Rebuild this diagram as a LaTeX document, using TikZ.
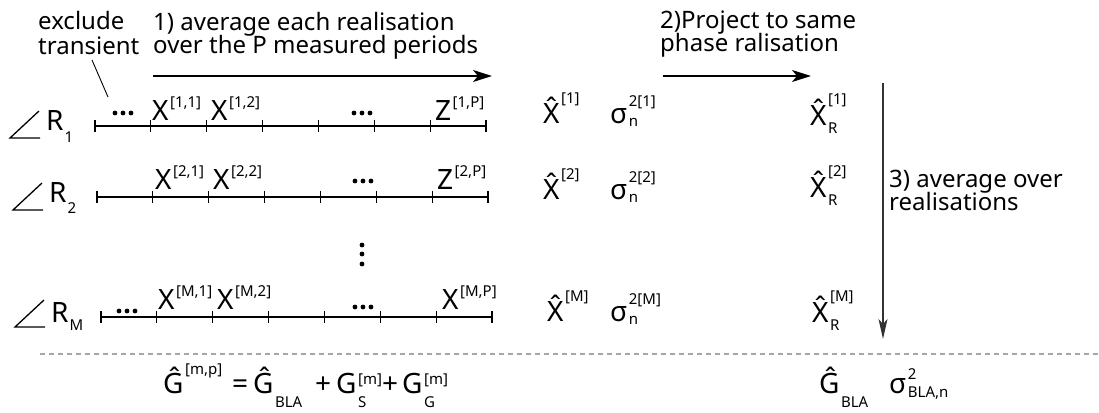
\documentclass[tikz,border=0pt]{standalone}
\usepackage{fontspec}
\setmainfont{Noto Sans}
\usetikzlibrary{arrows.meta,calc}

% font sizes
\newcommand\bigsz{\fontsize{28}{30}\selectfont}
\newcommand\smsz{\fontsize{15}{16}\selectfont}
\newcommand\txtsz{\fontsize{24}{24}\selectfont}

% symbol with superscript and subscript: base, sup, sub, raise, lower
\newcommand\sym[5]{{\bigsz #1}\hspace{1.5pt}\rlap{\raisebox{#4}{\smsz #2}}\raisebox{-#5}{\smsz #3}}
\newcommand\hatX{X^^^^0302}
% realisation label with index
\newcommand\phs[2]{{\bigsz R}\hspace{1pt}\raisebox{-#2}{\smsz #1}}

\begin{document}
\begin{tikzpicture}[x=1pt,y=-1pt,
  axis/.style={line width=1.4pt},
  tick/.style={line width=1.2pt},
  angl/.style={line width=1.3pt,line join=miter},
  flow/.style={line width=1.3pt,-{Stealth[length=19pt,width=12pt,inset=5pt]}},
  down/.style={line width=1.3pt,black!80,-{Stealth[length=20pt,width=9pt,inset=5pt]}},
  txt/.style={inner sep=0pt,anchor=base west,font=\txtsz},
  lbl/.style={inner sep=0pt,anchor=base west},
  dot/.style={circle,fill,inner sep=0pt,minimum size=4.8pt},
  sep/.style={line width=1.2pt,black!35,dash pattern=on 5pt off 4pt}]
\useasboundingbox (0,0) rectangle (1099,412);

% ---- captions
\node[txt] (ex1) at (38,30) {exclude};
\node[txt] (ex2) at (38,55) {transient};
\node[txt] (st1a) at (153,31) {1) average each realisation};
\node[txt] (st1b) at (153,53) {over the P measured periods};
\node[txt] (st2a) at (660,29) {2)Project to same};
\node[txt] (st2b) at (660,52) {phase ralisation};
\node[txt] (st3a) at (889,187) {3) average over};
\node[txt] (st3b) at (889,210) {realisations};

% ---- step arrows
\coordinate (a1s) at (153,76); \coordinate (a1e) at (492,76);
\coordinate (a2s) at (663,76); \coordinate (a2e) at (811,76);
\coordinate (a3s) at (883,83); \coordinate (a3e) at (883,339);
\draw[flow] (a1s) -- (a1e);
\draw[flow] (a2s) -- (a2e);
\draw[down] (a3s) -- (a3e);

% ---- transient pointer
\coordinate (trA) at (92,60); \coordinate (trB) at (108,97);
\draw[line width=0.9pt] (trA) -- (trB);

% ---- time axes of the realisations
\coordinate (r1s) at (95,126);  \coordinate (r1e) at (486,126);
\coordinate (r2s) at (97,197);  \coordinate (r2e) at (488,197);
\coordinate (rMs) at (101,317); \coordinate (rMe) at (492,317);
\foreach \r in {r1,r2,rM}{
  \draw[axis] (\r s) -- (\r e);
  \foreach \k in {0,...,7}
    \draw[tick] ($(\r s)!{\k/7}!(\r e)$) ++(0,-6) -- ++(0,12);
}

% ---- phase (angle) marks and realisation labels
\coordinate (an1) at (10,138);
\draw[angl] ($(an1)+(29,-27)$) -- (an1) -- ++(30,0);
\node[lbl] (R1) at (46,130) {\phs{1}{12pt}};
\coordinate (an2) at (13,210);
\draw[angl] ($(an2)+(29,-27)$) -- (an2) -- ++(30,0);
\node[lbl] (R2) at (49,202) {\phs{2}{11pt}};
\coordinate (anM) at (15,327);
\draw[angl] ($(anM)+(29,-27)$) -- (anM) -- ++(30,0);
\node[lbl] (RM) at (51,322) {\phs{M}{8pt}};

% ---- periods, row 1
\node[dot] (d1a) at (115,113) {}; \node[dot] (d1b) at (123,113) {}; \node[dot] (d1c) at (131,113) {};
\node[lbl] (x11) at (152,120) {\sym{X}{[1,1]}{}{13pt}{0pt}};
\node[lbl] (x12) at (211,120) {\sym{X}{[1,2]}{}{13pt}{0pt}};
\node[dot] (d1d) at (354,113) {}; \node[dot] (d1e) at (362,113) {}; \node[dot] (d1f) at (370,113) {};
\node[lbl] (z1P) at (435,120) {\sym{Z}{[1,P]}{}{13pt}{0pt}};

% ---- periods, row 2
\node[lbl] (x21) at (155,189) {\sym{X}{[2,1]}{}{13pt}{0pt}};
\node[lbl] (x22) at (213,189) {\sym{X}{[2,2]}{}{13pt}{0pt}};
\node[dot] (d2d) at (355,181) {}; \node[dot] (d2e) at (363,181) {}; \node[dot] (d2f) at (371,181) {};
\node[lbl] (z2P) at (437,189) {\sym{Z}{[2,P]}{}{13pt}{0pt}};

% ---- vertical ellipsis
\node[dot] (v1) at (362,245) {}; \node[dot] (v2) at (362,254) {}; \node[dot] (v3) at (362,264) {};

% ---- periods, row M
\node[dot] (dMa) at (119,311) {}; \node[dot] (dMb) at (127,311) {}; \node[dot] (dMc) at (135,311) {};
\node[lbl] (xM1) at (158,309) {\sym{X}{[M,1]}{}{13pt}{0pt}};
\node[lbl] (xM2) at (217,309) {\sym{X}{[M,2]}{}{13pt}{0pt}};
\node[dot] (dMd) at (355,307) {}; \node[dot] (dMe) at (363,307) {}; \node[dot] (dMf) at (371,307) {};
\node[lbl] (xMP) at (442,309) {\sym{X}{[M,P]}{}{13pt}{0pt}};

% ---- averaged spectra and noise variances
\node[lbl] (h1) at (543,123) {\sym{\hatX}{[1]}{}{20pt}{0pt}};
\node[lbl] (s1) at (610,123) {\sym{σ}{2[1]}{n}{17pt}{3pt}};
\node[lbl] (p1) at (810,125) {\sym{\hatX}{[1]}{R}{21pt}{8pt}};
\node[lbl] (h2) at (543,199) {\sym{\hatX}{[2]}{}{20pt}{0pt}};
\node[lbl] (s2) at (610,199) {\sym{σ}{2[2]}{n}{17pt}{3pt}};
\node[lbl] (p2) at (810,197) {\sym{\hatX}{[2]}{R}{21pt}{8pt}};
\node[lbl] (hM) at (547,321) {\sym{\hatX}{[M]}{}{20pt}{0pt}};
\node[lbl] (sM) at (610,321) {\sym{σ}{2[M]}{n}{17pt}{3pt}};
\node[lbl] (pM) at (812,322) {\sym{\hatX}{[M]}{R}{21pt}{8pt}};

% ---- separator
\coordinate (sepL) at (40,354); \coordinate (sepR) at (1099,354);
\draw[sep] (sepL) -- (sepR);

% ---- model of the measured FRF
\node[lbl] (Gmp) at (163,393) {\sym{Ĝ}{[m,p]}{}{19pt}{0pt}};
\node[lbl] (eq) at (232,393) {\bigsz =};
\node[lbl] (Gbla) at (253,393) {\sym{Ĝ}{}{BLA}{0pt}{14pt}};
\node[lbl] (pl1) at (315,393) {\bigsz +};
\node[lbl] (Gs) at (336,393) {\sym{G}{[m]}{S}{9pt}{14pt}};
\node[lbl] (pl2) at (382,393) {\bigsz +};
\node[lbl] (Gg) at (402,393) {\sym{G}{[m]}{G}{9pt}{14pt}};

% ---- final estimate
\node[lbl] (Gf) at (819,393) {\sym{Ĝ}{}{BLA}{0pt}{14pt}};
\node[lbl] (sf) at (889,393) {\sym{σ}{2}{BLA,n}{14pt}{4pt}};
\end{tikzpicture}
\end{document}
